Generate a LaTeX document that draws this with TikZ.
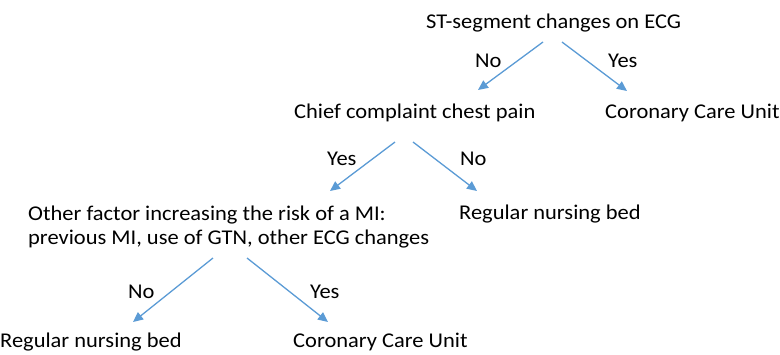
\documentclass[tikz,border=0pt]{standalone}
\usepackage{fontspec}
\setmainfont[FakeStretch=1.07]{Carlito}
\usetikzlibrary{arrows.meta}
\definecolor{arrblue}{HTML}{5B9BD5}
\begin{document}
\begin{tikzpicture}[x=1pt,y=-1pt,
  txt/.style={inner sep=0pt,anchor=base west,font=\fontsize{21}{24}\selectfont},
  lbl/.style={inner sep=0pt,anchor=base west,font=\fontsize{21}{24}\selectfont},
  arr/.style={draw=arrblue,line width=1.3pt,-{Triangle[length=10pt,width=9pt]},fill=arrblue}]
\useasboundingbox (0,0) rectangle (780,354);
\node[txt] (st) at (426,28) {ST-segment changes on ECG};
\node[txt] (chief) at (294,118) {Chief complaint chest pain};
\node[txt] (ccu1) at (605,118) {Coronary Care Unit};
\node[txt] (other) at (28,220) {Other factor increasing the risk of a MI:};
\node[txt] (other2) at (28,244) {previous MI, use of GTN, other ECG changes};
\node[txt] (rnb1) at (459,219) {Regular nursing bed};
\node[txt] (rnb2) at (0,347) {Regular nursing bed};
\node[txt] (ccu2) at (293,347) {Coronary Care Unit};
\node[lbl] (l1) at (475,67) {No};
\node[lbl] (l2) at (608,67) {Yes};
\node[lbl] (l3) at (327,165) {Yes};
\node[lbl] (l4) at (460,165) {No};
\node[lbl] (l5) at (128,298) {No};
\node[lbl] (l6) at (310,298) {Yes};
\coordinate (a1s) at (543,42); \coordinate (a1e) at (478,90);
\coordinate (a2s) at (562,42); \coordinate (a2e) at (627,91);
\coordinate (a3s) at (395,142); \coordinate (a3e) at (330,191);
\coordinate (a4s) at (413,142); \coordinate (a4e) at (477,191);
\coordinate (a5s) at (213,258); \coordinate (a5e) at (133,322);
\coordinate (a6s) at (247,258); \coordinate (a6e) at (328,322);
\draw[arr] (a1s) -- (a1e);
\draw[arr] (a2s) -- (a2e);
\draw[arr] (a3s) -- (a3e);
\draw[arr] (a4s) -- (a4e);
\draw[arr] (a5s) -- (a5e);
\draw[arr] (a6s) -- (a6e);
\end{tikzpicture}
\end{document}
